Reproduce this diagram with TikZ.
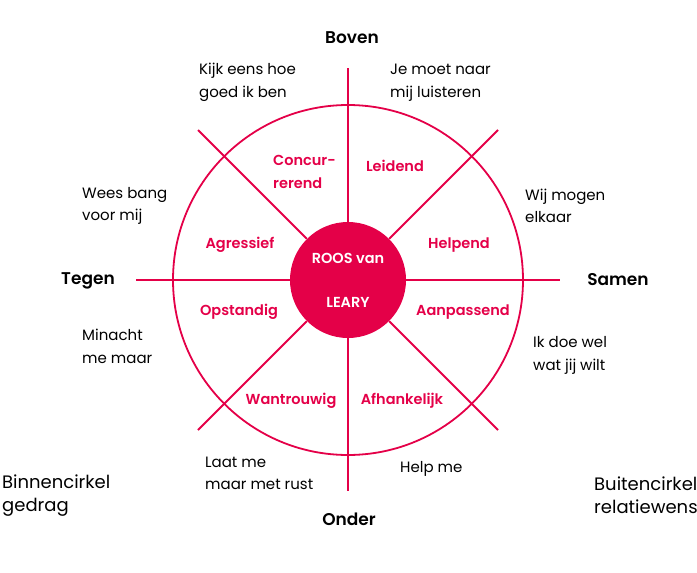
\documentclass[tikz,border=0pt]{standalone}
\usepackage{fontspec}
\setmainfont{Poppins}[BoldFont={Poppins SemiBold}]
\definecolor{roos}{RGB}{228,0,72}
\begin{document}
\begin{tikzpicture}[x=1pt,y=-1pt,
  wheel/.style={draw=roos,line width=1.8pt},
  blk/.style={inner sep=0pt,text=black,align=left,anchor=west,font=\fontsize{15}{22.5}\selectfont},
  big/.style={inner sep=0pt,text=black,align=left,anchor=west,font=\fontsize{18}{23}\selectfont},
  dir/.style={inner sep=0pt,text=black,font=\bfseries\fontsize{17}{18}\selectfont},
  lab/.style={inner sep=0pt,text=roos,align=left,font=\bfseries\fontsize{14.5}{23}\selectfont},
  ctr/.style={inner sep=0pt,text=white,font=\bfseries\fontsize{14.5}{15}\selectfont}]
\useasboundingbox (0,0) rectangle (697,573);
\node[wheel,circle,minimum size=350pt,inner sep=0pt] (outer) at (348,280) {};
\node[circle,fill=roos,minimum size=116pt,inner sep=0pt] (c) at (348,280) {};
\coordinate (e0) at (560,280);
\coordinate (e1) at (498,130);
\coordinate (e2) at (348,68);
\coordinate (e3) at (198,130);
\coordinate (e4) at (136,280);
\coordinate (e5) at (198,430);
\coordinate (e6) at (348,491);
\coordinate (e7) at (498,430);
\foreach \n in {e0,e1,e2,e3,e4,e5,e6,e7}{\draw[wheel] (c) -- (\n);}
% centre
\node[ctr] (roos) at (348,258) {ROOS van};
\node[ctr] (leary) at (348,302) {LEARY};
% directions
\node[dir] (boven) at (352,38) {Boven};
\node[dir] (onder) at (349,519) {Onder};
\node[dir] (tegen) at (88,281) {Tegen};
\node[dir] (samen) at (618,280) {Samen};
% inner labels
\node[lab,anchor=west] (concur) at (273,171.5) {Concur-\\rerend};
\node[lab] (leidend) at (395,166) {Leidend};
\node[lab] (agressief) at (240,245) {Agressief};
\node[lab] (helpend) at (459,245) {Helpend};
\node[lab] (opstandig) at (239,312) {Opstandig};
\node[lab] (aanpassend) at (463,312) {Aanpassend};
\node[lab] (wantrouwig) at (291,401) {Wantrouwig};
\node[lab] (afhankelijk) at (402,401) {Afhankelijk};
% outer texts
\node[blk] (kijk) at (199,82.5) {Kijk eens hoe\\goed ik ben};
\node[blk] (je) at (390,82.5) {Je moet naar\\mij luisteren};
\node[blk] (wees) at (82,206) {Wees bang\\voor mij};
\node[blk] (wij) at (525,206) {Wij mogen\\elkaar};
\node[blk] (min) at (82,346.5) {Minacht\\me maar};
\node[blk] (ik) at (533,355.5) {Ik doe wel\\wat jij wilt};
\node[blk] (laat) at (205,473.5) {Laat me\\maar met rust};
\node[blk] (help) at (400,469) {Help me};
\node[big] (binnen) at (2,495.5) {Binnencirkel\\gedrag};
\node[big] (buiten) at (594,495.5) {Buitencirkel\\relatiewens};
\end{tikzpicture}
\end{document}
